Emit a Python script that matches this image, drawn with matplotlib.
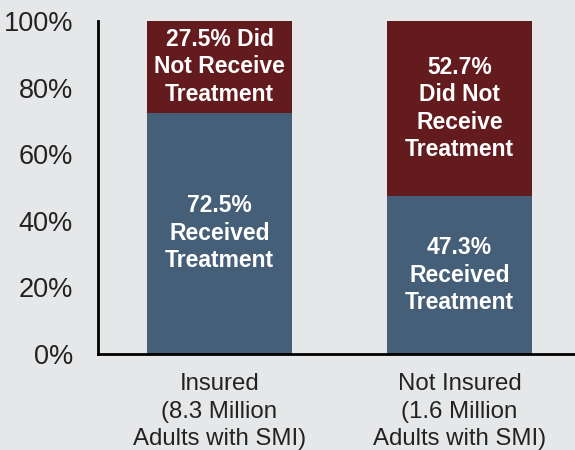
import matplotlib
matplotlib.use('Agg')
import matplotlib.pyplot as plt

CATEGORIES = ['Insured\n(8.3 Million\nAdults with SMI)',
              'Not Insured\n(1.6 Million\nAdults with SMI)']
RECEIVED = [72.5, 47.3]
NOT_RECEIVED = [27.5, 52.7]
RECEIVED_LABELS = ['72.5%\nReceived\nTreatment', '47.3%\nReceived\nTreatment']
NOT_RECEIVED_LABELS = ['27.5% Did\nNot Receive\nTreatment',
                       '52.7%\nDid Not\nReceive\nTreatment']

BG = '#e6e7e9'
BLUE = '#465f78'
RED = '#641b1e'

plt.rcParams['font.family'] = ['Liberation Sans', 'DejaVu Sans']

fig = plt.figure(figsize=(5.75, 4.5), dpi=100, facecolor=BG)
ax = fig.add_axes([98 / 575, 1 - 354 / 450, (579.5 - 98) / 575, 333 / 450])
ax.set_facecolor(BG)

x = [0, 1]
w = 0.604
ax.bar(x, RECEIVED, width=w, color=BLUE)
ax.bar(x, NOT_RECEIVED, width=w, bottom=RECEIVED, color=RED)

for i in x:
    ax.text(i, RECEIVED[i] / 2, RECEIVED_LABELS[i], ha='center', va='center',
            color='white', fontsize=16.5, fontweight='bold', linespacing=1.25)
    ax.text(i, RECEIVED[i] + NOT_RECEIVED[i] / 2, NOT_RECEIVED_LABELS[i],
            ha='center', va='center', color='white', fontsize=16.5,
            fontweight='bold', linespacing=1.25)

ax.set_xlim(-0.506, 1.5)
ax.set_ylim(0, 100)
ax.set_yticks(range(0, 101, 20))
ax.set_yticklabels([f'{v}%' for v in range(0, 101, 20)], fontsize=19.5, color='#222222')
ax.set_xticks(x)
ax.set_xticklabels(CATEGORIES, fontsize=17.3, color='#222222', linespacing=1.3)
ax.tick_params(axis='y', length=0, pad=18)
ax.tick_params(axis='x', length=0, pad=14)
for s in ['top', 'right']:
    ax.spines[s].set_visible(False)
for s in ['left', 'bottom']:
    ax.spines[s].set_linewidth(2)
    ax.spines[s].set_color('black')

fig.savefig('out.png', dpi=100, facecolor=BG)
